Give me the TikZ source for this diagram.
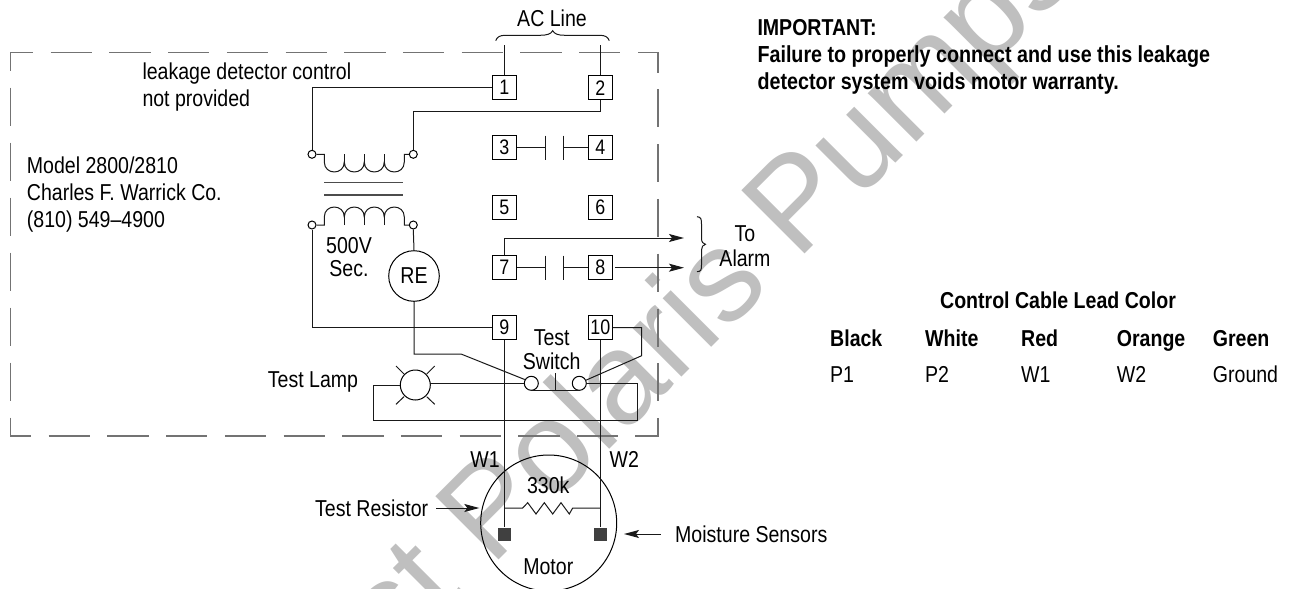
\documentclass[tikz,border=0pt]{standalone}
\usepackage{fontspec}
\usetikzlibrary{arrows.meta}
\setmainfont{Liberation Sans}[FakeStretch=0.85]
\newfontfamily\wmfont{Liberation Sans}
\tikzset{
  wire/.style={line width=1pt,black!90},
  grayline/.style={line width=1.4pt,color=black!55},
  termbox/.style={draw,line width=1pt,minimum size=24pt,inner sep=0pt,font=\fontsize{21}{21}\selectfont},
  term/.style={circle,draw,line width=1pt,fill=white,minimum size=8pt,inner sep=0pt},
  swterm/.style={circle,draw,line width=1pt,fill=white,minimum size=14pt,inner sep=0pt},
  sensor/.style={fill=black!75,minimum size=13pt,inner sep=0pt},
  lbl/.style={inner sep=0pt,font=\fontsize{23}{27}\selectfont},
  lblb/.style={inner sep=0pt,font=\fontsize{23}{27}\selectfont\bfseries},
  pointer/.style={line width=1pt,black!90,-{Stealth[length=15pt,width=8pt,inset=3pt]}},
}
\begin{document}
\begin{tikzpicture}[x=1pt,y=-1pt]
\useasboundingbox (0,0) rectangle (1291,589);
\begin{scope}
\clip (0,0) rectangle (1291,589);
\node[anchor=base west,rotate=45,inner sep=0pt,text=black!25,font=\wmfont\fontsize{130}{130}\selectfont] (wm) at (394,665) {st Polaris Pumps};
\end{scope}

% dashed enclosure
\draw[grayline] (10.7,70.7) -- (10.7,52.7) -- (33,52.7);
\draw[grayline] (638,52.7) -- (658,52.7) -- (658,72.7);
\draw[grayline] (10.7,417.7) -- (10.7,436) -- (31.3,436);
\draw[grayline] (635,436) -- (658,436) -- (658,417.7);
\foreach \i in {0,...,9} {
  \draw[grayline] ({50.7+58.7*\i},52.7) -- ({92+58.7*\i},52.7);
  \draw[grayline] ({48.7+58.7*\i},436) -- ({90+58.7*\i},436);
}
\foreach \i in {0,...,5} {
  \draw[grayline] (10.7,{87.7+55*\i}) -- (10.7,{126+55*\i});
  \draw[grayline] (658,{89.3+54.8*\i}) -- (658,{127.3+54.8*\i});
}

% terminals
\node[termbox] (b1) at (504.3,87.7) {1};
\node[termbox] (b2) at (600.3,87.7) {2};
\node[termbox] (b3) at (504.3,147.7) {3};
\node[termbox] (b4) at (600.3,147.7) {4};
\node[termbox] (b5) at (504.3,207.7) {5};
\node[termbox] (b6) at (600.3,207.7) {6};
\node[termbox] (b7) at (504.3,267.7) {7};
\node[termbox] (b8) at (600.3,267.7) {8};
\node[termbox] (b9) at (504.3,327.7) {9};
\node[termbox] (b10) at (600.3,327.7) {10};

% AC line
\coordinate (ac1) at (504.3,45);
\coordinate (ac2) at (600.3,45);
\draw[wire] (ac1) -- (b1.north);
\draw[wire] (ac2) -- (b2.north);
\draw[wire] (495.7,40.7) .. controls (497,37) and (500,35.3) .. (505,35.3) -- (540,35.3) .. controls (547,35.3) and (551,34) .. (552.7,30.7) .. controls (554.5,34) and (558,35.3) .. (565,35.3) -- (600,35.3) .. controls (605,35.3) and (608,37) .. (609.3,40.7);
\node[lbl] (acl) at (552,18) {AC Line};

% transformer
\node[term] (pL) at (312,154.3) {};
\node[term] (pR) at (413.3,154.3) {};
\node[term] (sL) at (312,225) {};
\node[term] (sR) at (413.3,225) {};
\coordinate (c2) at (413.3,111.3);
\draw[wire] (b1.west) -| (pL.north);
\draw[wire] (b2.south) |- (c2) -- (pR.north);
\draw[wire] (pL.east) -- (324.3,154.3) -- (324.3,162)
  .. controls (324.3,175.3) and (344.3,175.3) .. (344.3,162)
  .. controls (344.3,175.3) and (364.3,175.3) .. (364.3,162)
  .. controls (364.3,175.3) and (384.3,175.3) .. (384.3,162)
  .. controls (384.3,175.3) and (404.3,175.3) .. (404.3,162) -- (404.3,154.3) -- (pR.west);
\draw[wire] (344.3,154.3) -- (344.3,162) (364.3,154.3) -- (364.3,162) (384.3,154.3) -- (384.3,162);
\draw[grayline,color=black!70] (324.3,182.7) -- (402.7,182.7);
\draw[grayline,color=black!70] (324.3,195) -- (402.7,195);
\draw[wire] (sL.east) -- (324.3,225) -- (324.3,217)
  .. controls (324.3,203.7) and (344.3,203.7) .. (344.3,217)
  .. controls (344.3,203.7) and (364.3,203.7) .. (364.3,217)
  .. controls (364.3,203.7) and (384.3,203.7) .. (384.3,217)
  .. controls (384.3,203.7) and (404.3,203.7) .. (404.3,217) -- (404.3,225) -- (sR.west);
\draw[wire] (344.3,225) -- (344.3,217) (364.3,225) -- (364.3,217) (384.3,225) -- (384.3,217);

\node[lbl] (v500) at (349,245.7) {500V};
\node[lbl] (vsec) at (349,268.3) {Sec.};
\node[circle,draw,line width=1pt,minimum size=50.6pt,inner sep=0pt,font=\fontsize{23}{23}\selectfont] (re) at (414,276) {RE};
\draw[wire] (sR.south) -- (re.north);
\draw[wire] (sL.south) |- (b9.west);

% contacts
\coordinate (k3) at (545,147.7);
\coordinate (k4) at (563,147.7);
\draw[wire] (b3.east) -- (k3) (545,135.7) -- (545,159.7);
\draw[wire] (b4.west) -- (k4) (563,135.7) -- (563,159.7);
\coordinate (k7) at (545,267.7);
\coordinate (k8) at (563,267.7);
\draw[wire] (b7.east) -- (k7) (545,255.7) -- (545,279.7);
\draw[wire] (b8.west) -- (k8) (563,255.7) -- (563,279.7);

% alarm
\coordinate (a7) at (684,238);
\coordinate (a8) at (684,267.7);
\draw[pointer] (b7.north) |- (a7);
\draw[pointer] ([xshift=2pt]b8.east) -- (a8);
\draw[wire] (697,216.7) .. controls (701,217) and (701.5,219) .. (701.5,224) -- (701.5,238) .. controls (701.5,242) and (703,244) .. (705.5,244.3) .. controls (703,244.6) and (701.5,247) .. (701.5,250) -- (701.5,265) .. controls (701.5,270) and (701,271.5) .. (697,271.7);
\node[lbl] (to) at (745,234) {To};
\node[lbl] (alarm) at (745,258.3) {Alarm};

% test switch and lamp
\node[swterm] (swL) at (531.3,383.3) {};
\node[swterm] (swR) at (579.3,383.3) {};
\node[circle,draw,line width=1pt,minimum size=30pt,inner sep=0pt] (lamp) at (415.3,385) {};
\coordinate (d1a) at (414,354);
\coordinate (d1b) at (461,354);
\draw[wire] (re.south) -- (d1a) -- (d1b) -- (swL.150);
\coordinate (d2a) at (641.7,327.7);
\coordinate (d2b) at (641.7,355.7);
\draw[wire] (b10.east) -- (d2a) -- (d2b) -- (swR.25);
\coordinate (lE) at (430.3,383.3);
\draw[wire] (lE) -- (swL.west);
\coordinate (l1) at (373.3,385);
\coordinate (l2) at (373.3,420.7);
\coordinate (l3) at (637.3,420.7);
\coordinate (l4) at (637.3,383.3);
\draw[wire] (lamp.west) -- (l1) -- (l2) -- (l3) -- (l4) -- (swR.east);
\draw[wire] (396,366) -- (404,374) (434.7,366) -- (426.7,374) (396,404.3) -- (404,396.7) (434.7,404.3) -- (426.7,396.7);
\coordinate (sw1) at (531.3,390);
\coordinate (sw2) at (579.3,390);
\coordinate (sw3) at (555.7,390);
\coordinate (sw4) at (555.7,372.7);
\draw[wire] (sw1) -- (sw2) (sw3) -- (sw4);
\node[lbl] (tst) at (551.7,337.3) {Test};
\node[lbl] (swi) at (551.7,361.7) {Switch};
\node[lbl,anchor=east] (tl) at (358.3,381.7) {Test Lamp};

% motor
\begin{scope}
\clip (0,0) rectangle (1291,589);
\node[circle,draw,line width=1pt,minimum size=136pt,inner sep=0pt] (motor) at (548.7,523) {};
\end{scope}
\node[sensor] (s1) at (504.3,534) {};
\node[sensor] (s2) at (600.3,534) {};
\draw[wire] (b9.south) -- (s1.north);
\draw[wire] (b10.south) -- (s2.north);
\coordinate (r1) at (504.3,508);
\coordinate (r2) at (600.3,508);
\draw[wire] (r1) -- (522.7,508) -- (527.7,502.7) -- (536,514) -- (544.3,502.7) -- (552.7,514) -- (561,502.7) -- (569.3,514) -- (572.7,508) -- (r2);
\node[lbl] (k330) at (548.3,485) {330k};
\node[lbl] (w1) at (485,459.3) {W1};
\node[lbl] (w2) at (624.3,459.3) {W2};
\node[lbl] (mot) at (548.3,566.7) {Motor};
\node[lbl,anchor=west] (tr) at (315,508) {Test Resistor};
\coordinate (tra) at (436,508);
\coordinate (trb) at (479.3,508);
\draw[pointer] (tra) -- (trb);
\node[lbl,anchor=west] (ms) at (675,534) {Moisture Sensors};
\coordinate (msa) at (660.7,534);
\coordinate (msb) at (624,534);
\draw[pointer] (msa) -- (msb);

% left labels
\node[lbl,anchor=base west] (t1) at (142.3,79.3) {leakage detector control};
\node[lbl,anchor=base west] (t2) at (142.3,106) {not provided};
\node[lbl,anchor=base west] (t3) at (26.7,173.3) {Model 2800/2810};
\node[lbl,anchor=base west] (t4) at (26.7,200) {Charles F. Warrick Co.};
\node[lbl,anchor=base west] (t5) at (26.7,227.3) {(810) 549–4900};

% important
\node[lblb,anchor=base west] (i1) at (757.3,35.7) {IMPORTANT:};
\node[lblb,anchor=base west,font=\fontsize{23.2}{27}\selectfont\bfseries] (i2) at (757.3,62.7) {Failure to properly connect and use this leakage};
\node[lblb,anchor=base west,font=\fontsize{23.2}{27}\selectfont\bfseries] (i3) at (757.3,89.3) {detector system voids motor warranty.};

% table
\node[lblb,anchor=base] (th) at (1058,308.3) {Control Cable Lead Color};
\node[lblb,anchor=base west] (c1) at (830,346) {Black};
\node[lblb,anchor=base west] (c2) at (925,346) {White};
\node[lblb,anchor=base west] (c3) at (1021,346) {Red};
\node[lblb,anchor=base west] (c4) at (1116.7,346) {Orange};
\node[lblb,anchor=base west] (c5) at (1212.7,346) {Green};
\node[lbl,anchor=base west] (d1) at (830,382.3) {P1};
\node[lbl,anchor=base west] (d2) at (925,382.3) {P2};
\node[lbl,anchor=base west] (d3) at (1021,382.3) {W1};
\node[lbl,anchor=base west] (d4) at (1116.7,382.3) {W2};
\node[lbl,anchor=base west] (d5) at (1212.7,382.3) {Ground};
\end{tikzpicture}
\end{document}
